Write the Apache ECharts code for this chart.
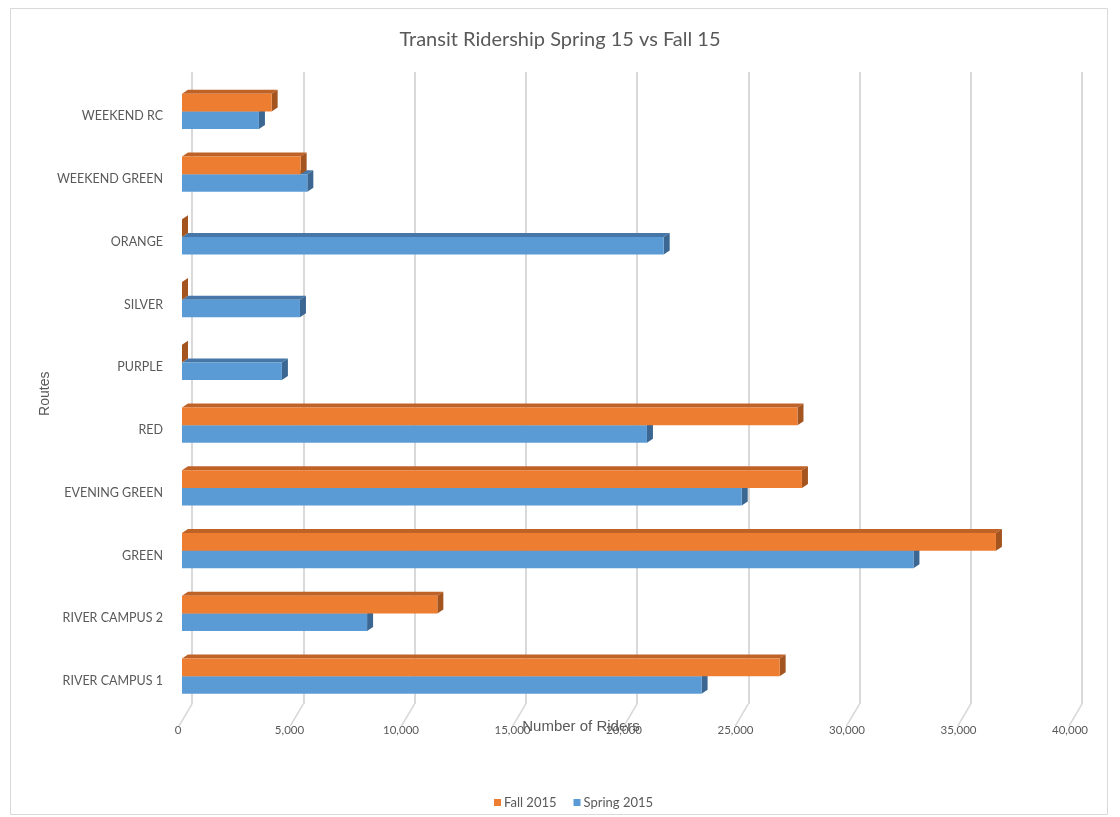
<!DOCTYPE html>
<html>
<head>
<meta charset="utf-8">
<script src="https://cdn.jsdelivr.net/npm/echarts@6/dist/echarts.min.js"></script>
<style>html,body{margin:0;padding:0;background:#fff;}#c{width:1120px;height:817px;}</style>
</head>
<body>
<div id="c"></div>
<script>
var categories = ['RIVER CAMPUS 1','RIVER CAMPUS 2','GREEN','EVENING GREEN','RED','PURPLE','SILVER','ORANGE','WEEKEND GREEN','WEEKEND RC'];
var spring2015 = [23300, 8300, 32800, 25100, 20850, 4480, 5290, 21600, 5620, 3450];
var fall2015   = [26800, 11450, 36500, 27800, 27600, 0, 0, 0, 5320, 4020];
var xTicks = [0, 5000, 10000, 15000, 20000, 25000, 30000, 35000, 40000];

var DX = 6, DY = 4;
function bar3d(front, top, side, below) {
  return function (params, api) {
    var i = api.value(0), v = api.value(1);
    var c0 = api.coord([0, i]);
    var c1 = api.coord([v, i]);
    var band = api.size([0, 1])[1];
    var h = band * 0.28;
    var y0 = below ? c0[1] : c0[1] - h;
    var y1 = y0 + h;
    var x0 = c0[0], x1 = c1[0];
    return {
      type: 'group',
      children: [
        {type: 'polygon', shape: {points: [[x0, y0], [x1, y0], [x1 + DX, y0 - DY], [x0 + DX, y0 - DY]]}, style: {fill: top}},
        {type: 'polygon', shape: {points: [[x1, y0], [x1 + DX, y0 - DY], [x1 + DX, y1 - DY], [x1, y1]]}, style: {fill: side}},
        {type: 'rect', shape: {x: x0, y: y0, width: Math.max(0, x1 - x0), height: h}, style: {fill: front}}
      ]
    };
  };
}

var txt = '#595959';
var font = 'Lato, "Open Sans", sans-serif';
var chart = echarts.init(document.getElementById('c'));
chart.setOption({
  animation: false,
  backgroundColor: '#fff',
  title: {
    text: 'Transit Ridership Spring 15 vs Fall 15',
    left: 'center', top: 25,
    textStyle: {fontFamily: font, fontSize: 20, fontWeight: 'normal', color: txt}
  },
  graphic: [{
    type: 'rect', z: -10, silent: true,
    shape: {x: 10.5, y: 8.5, width: 1097, height: 806},
    style: {fill: 'none', stroke: '#D9D9D9', lineWidth: 1}
  }],
  legend: {
    data: ['Fall 2015', 'Spring 2015'],
    left: 489, top: 791,
    icon: 'rect', itemWidth: 7, itemHeight: 7, itemGap: 17,
    textStyle: {fontFamily: font, fontSize: 13, color: txt, padding: [0, 0, 0, -2]}
  },
  grid: [
    {left: 182, width: 892, top: 80, height: 627.5},
    {left: 192, width: 890, top: 72, height: 632}
  ],
  xAxis: [
    {
      gridIndex: 0, type: 'value', min: 0, max: 40000, interval: 5000,
      axisLine: {show: false}, axisTick: {show: false}, splitLine: {show: false},
      axisLabel: {
        margin: 17, color: txt, fontFamily: font, fontSize: 11.5, padding: [0, 8, 0, 0],
        formatter: function (v) { return v.toLocaleString('en-US'); }
      },
      name: 'Number of Riders', nameLocation: 'middle', nameGap: 12, nameMoveOverlap: false,
      nameTextStyle: {fontFamily: '"Liberation Sans", Arial, sans-serif', fontSize: 15, color: txt, padding: [0, 94, 0, 0]}
    },
    {
      gridIndex: 1, type: 'value', min: 0, max: 40000, interval: 5000,
      axisLine: {show: false}, axisTick: {show: false}, axisLabel: {show: false},
      splitLine: {show: true, lineStyle: {color: '#D9D9D9', width: 2}}
    }
  ],
  yAxis: [
    {
      gridIndex: 0, type: 'category', data: categories,
      axisLine: {show: false}, axisTick: {show: false},
      axisLabel: {margin: 19, color: txt, fontFamily: font, fontSize: 12.5, verticalAlign: 'top', lineHeight: 10},
      name: 'Routes', nameLocation: 'middle', nameRotate: 90, nameGap: 130, nameMoveOverlap: false,
      nameTextStyle: {fontFamily: '"Liberation Sans", Arial, sans-serif', fontSize: 14, color: txt}
    },
    {
      gridIndex: 1, type: 'value', min: 0, max: 1, show: false
    }
  ],
  series: [
    {
      name: 'floor', type: 'custom', xAxisIndex: 1, yAxisIndex: 1, silent: true, z: 1,
      data: xTicks.map(function (t) { return [t, 0]; }),
      renderItem: function (params, api) {
        var p = api.coord([api.value(0), 0]);
        return {type: 'line', shape: {x1: p[0], y1: p[1], x2: p[0] - 13, y2: p[1] + 22}, style: {stroke: '#D9D9D9', lineWidth: 1.5}};
      }
    },
    {
      name: 'Spring 2015', type: 'custom', xAxisIndex: 0, yAxisIndex: 0, z: 3,
      itemStyle: {color: '#5B9BD5'},
      encode: {x: 1, y: 0},
      data: spring2015.map(function (v, i) { return [i, v]; }),
      renderItem: bar3d('#5B9BD5', '#4677A8', '#3B6792', true)
    },
    {
      name: 'Fall 2015', type: 'custom', xAxisIndex: 0, yAxisIndex: 0, z: 4,
      itemStyle: {color: '#ED7D31'},
      encode: {x: 1, y: 0},
      data: fall2015.map(function (v, i) { return [i, v]; }),
      renderItem: bar3d('#ED7D31', '#BF6227', '#A4541F', false)
    }
  ]
});
</script>
</body>
</html>
